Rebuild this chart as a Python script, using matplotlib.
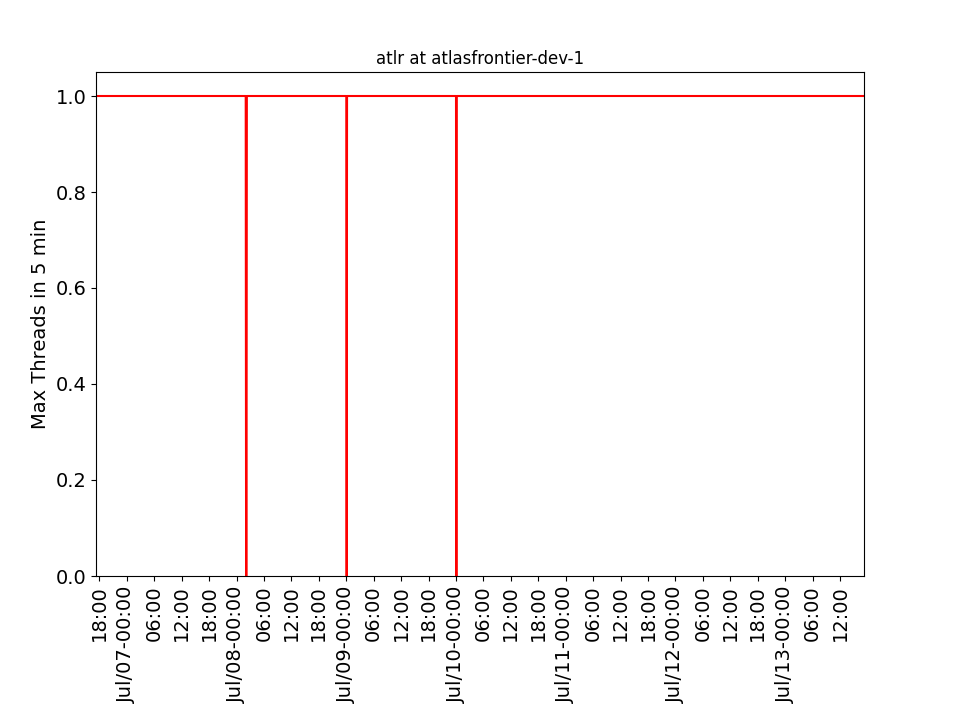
import matplotlib
matplotlib.use('Agg')
import matplotlib.pyplot as plt
import matplotlib.dates as mdates
import numpy as np
import pandas as pd

# change points of the "max threads" series (5 min bins)
times = ['2021-07-06 17:15', '2021-07-08 02:00', '2021-07-08 02:05', '2021-07-08 02:10',
         '2021-07-08 02:15', '2021-07-09 00:00', '2021-07-09 00:05', '2021-07-09 00:10',
         '2021-07-10 00:00', '2021-07-10 00:05', '2021-07-10 00:10', '2021-07-13 17:15']
threads = [1, 1, 0, 0, 1, 1, 0, 1, 1, 0, 1, 1]

title = 'atlr at atlasfrontier-dev-1'
ylabel = 'Max Threads in 5 min'

t = pd.to_datetime(times)

fig, ax = plt.subplots(figsize=(9.6, 7.2), dpi=100)
fig.subplots_adjust(left=0.1, right=0.9, top=0.9, bottom=0.2)

ax.plot(t, threads, color='red', linewidth=1.5)
ax.set_xlim(t[0], t[-1])
ax.set_ylim(0, 1.05)


def fmt(x, pos=None):
    d = mdates.num2date(x)
    if d.hour == 0:
        return d.strftime('%b/%d-%H:%M')
    return d.strftime('%H:%M')


ax.xaxis.set_major_locator(mdates.HourLocator(byhour=[0, 6, 12, 18]))
ax.xaxis.set_major_formatter(plt.FuncFormatter(fmt))
ax.tick_params(axis='both', labelsize=14)
plt.setp(ax.get_xticklabels(), rotation=90)
ax.set_ylabel(ylabel, fontsize=14)
ax.set_title(title, fontsize=12)

fig.savefig('out.png')
